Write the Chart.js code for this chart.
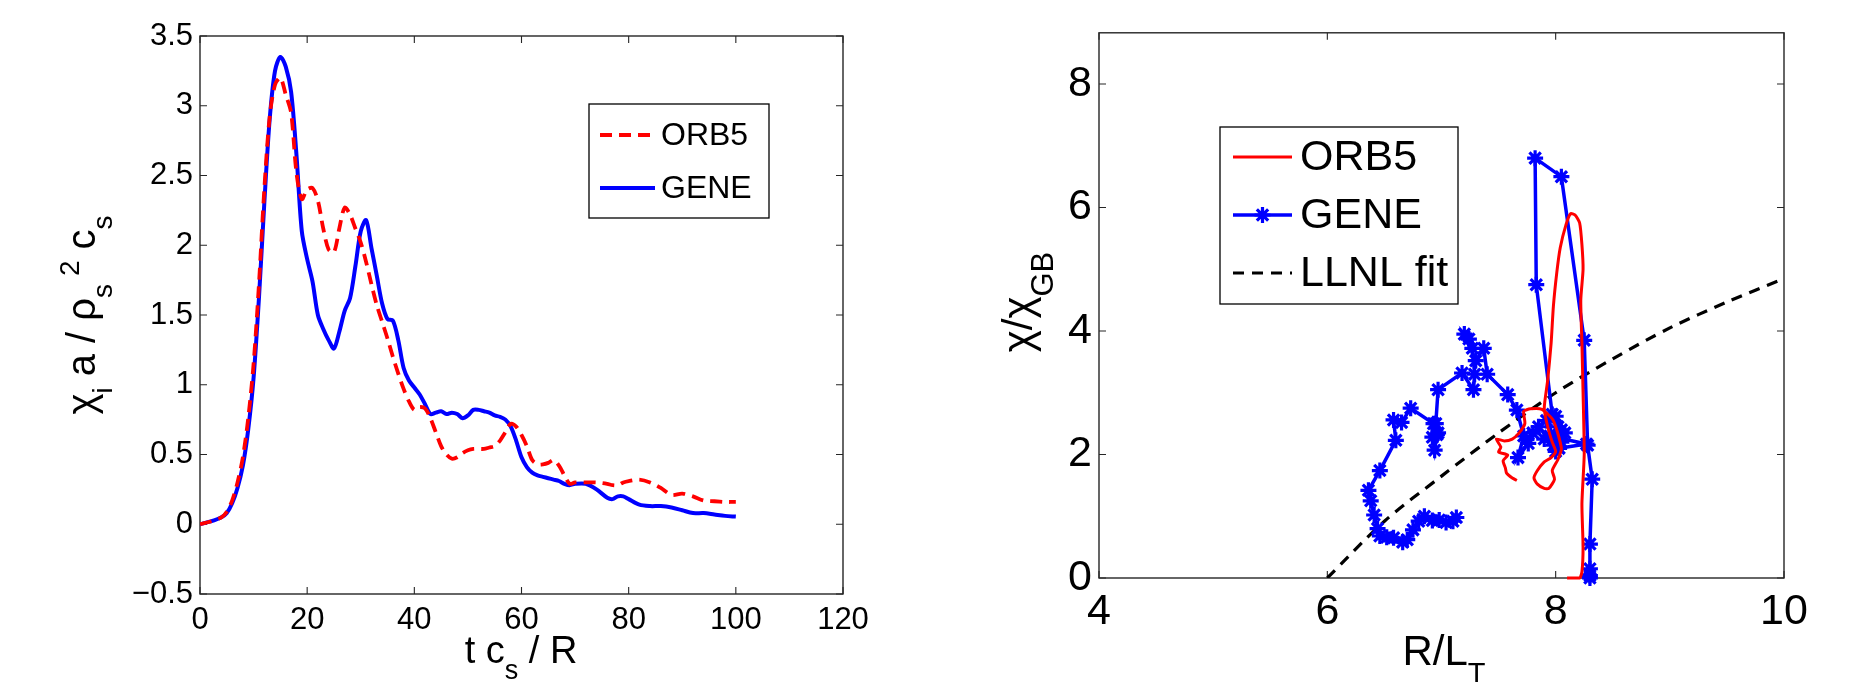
<!DOCTYPE html>
<html>
<head>
<meta charset="utf-8">
<script src="https://cdn.jsdelivr.net/npm/chart.js@4/dist/chart.umd.min.js"></script>
<style>
html, body { margin: 0; padding: 0; background: #fff; }
#wrap { position: relative; width: 1866px; height: 682px; overflow: hidden; }
canvas { position: absolute; top: 0; }
#left { left: 0; }
#right { left: 933px; }
</style>
</head>
<body>
<div id="wrap">
  <canvas id="left" width="933" height="682"></canvas>
  <canvas id="right" width="933" height="682"></canvas>
</div>
<script>
// --- Data: left panel (chi_i vs time) ---
const timeGrid = [0, 2, 4, 5, 6, 7, 8, 9, 10, 11, 12, 13, 14, 15, 16, 17, 18, 19, 20,
  21, 22, 23, 24, 25, 26, 27, 28, 29, 30, 31, 32, 33, 34, 35, 36, 37, 38, 39, 40,
  41, 42, 43, 44, 45, 46, 47, 48, 49, 50, 51, 52, 53, 54, 55, 56, 57, 58, 59, 60,
  61, 62, 63, 64, 65, 66, 67, 68, 69, 70, 72, 74, 76, 77, 78, 79, 80, 82, 84, 86,
  88, 90, 92, 94, 96, 98, 100];
const geneChiTime = [0.00, 0.02, 0.05, 0.08, 0.15, 0.26, 0.42, 0.68, 1.05, 1.62, 2.30, 2.90, 3.25, 3.35, 3.28, 3.10, 2.65, 2.10, 1.90,
  1.74, 1.50, 1.40, 1.32, 1.26, 1.38, 1.53, 1.62, 1.85, 2.10, 2.18, 1.98, 1.78, 1.58, 1.47, 1.46, 1.32, 1.12, 1.03, 0.98,
  0.93, 0.86, 0.79, 0.80, 0.81, 0.79, 0.80, 0.79, 0.76, 0.78, 0.82, 0.82, 0.81, 0.80, 0.78, 0.77, 0.75, 0.70, 0.60, 0.48,
  0.41, 0.37, 0.35, 0.34, 0.33, 0.32, 0.31, 0.29, 0.28, 0.29, 0.29, 0.25, 0.19, 0.18, 0.20, 0.20, 0.18, 0.14, 0.13, 0.13,
  0.12, 0.10, 0.08, 0.08, 0.07, 0.06, 0.055];
const orb5ChiTime = [0.00, 0.02, 0.05, 0.09, 0.17, 0.30, 0.48, 0.76, 1.15, 1.72, 2.40, 2.92, 3.15, 3.20, 3.08, 2.95, 2.52, 2.33, 2.40,
  2.41, 2.32, 2.12, 1.97, 1.95, 2.12, 2.27, 2.22, 2.12, 2.02, 1.88, 1.72, 1.57, 1.45, 1.33, 1.20, 1.08, 0.97, 0.88, 0.82,
  0.84, 0.83, 0.76, 0.66, 0.56, 0.50, 0.47, 0.48, 0.51, 0.53, 0.54, 0.54, 0.54, 0.55, 0.56, 0.60, 0.66, 0.72, 0.70, 0.64,
  0.56, 0.46, 0.43, 0.43, 0.44, 0.46, 0.42, 0.35, 0.29, 0.30, 0.30, 0.30, 0.29, 0.28, 0.28, 0.30, 0.31, 0.32, 0.30, 0.26,
  0.21, 0.22, 0.20, 0.17, 0.165, 0.16, 0.16];

// --- Data: right panel (chi/chi_GB vs R/L_T) ---
const orb5RLT = [8.10, 8.21, 8.23, 8.24, 8.23, 8.25, 8.24, 8.23, 8.22, 8.24, 8.23, 8.21, 8.17, 8.13, 8.09, 8.04, 8.01, 7.98,
  7.96, 7.93, 7.90, 7.93, 7.97, 8.00, 7.96, 7.90, 7.84, 7.81, 7.84, 7.90, 7.94, 7.99, 7.97, 8.02, 8.05, 7.98, 7.88, 7.78,
  7.72, 7.73, 7.68, 7.62, 7.55, 7.48, 7.52, 7.50, 7.58, 7.54, 7.56, 7.57, 7.62, 7.66];
const orb5Chi = [0.00, 0.00, 0.10, 0.50, 1.20, 2.00, 3.00, 3.80, 4.50, 5.00, 5.40, 5.75, 5.88, 5.90, 5.72, 5.35, 4.95, 4.40,
  3.80, 3.20, 2.75, 2.45, 2.20, 2.05, 1.95, 1.88, 1.74, 1.62, 1.52, 1.45, 1.45, 1.60, 1.74, 1.92, 2.10, 2.55, 2.73, 2.74,
  2.70, 2.50, 2.35, 2.25, 2.22, 2.25, 2.12, 2.04, 1.99, 1.90, 1.78, 1.70, 1.62, 1.58];
const geneRLT = [8.30, 8.30, 8.30, 8.30, 8.32, 8.28, 8.25, 8.05, 7.82, 7.83, 7.97, 8.02, 8.05, 8.00, 8.08, 7.95, 8.27,
  8.03, 7.92, 8.00, 8.05, 7.90, 7.98, 7.85, 7.80, 7.76, 7.67, 7.72, 7.66, 7.58, 7.40, 7.37, 7.30, 7.20, 7.24, 7.27,
  7.29, 7.28, 7.18, 6.97, 6.95, 6.97, 6.92, 6.94, 6.96, 6.93, 6.73, 6.65, 6.58, 6.60, 6.46, 6.36, 6.38, 6.41, 6.44,
  6.46, 6.52, 6.58, 6.66, 6.70, 6.75, 6.80, 6.85, 6.92, 6.98, 7.04, 7.10, 7.13];
const geneChi = [0.00, 0.04, 0.15, 0.55, 1.60, 2.15, 3.85, 6.50, 6.80, 4.75, 2.65, 2.45, 2.20, 2.05, 2.35, 2.30, 2.17,
  2.10, 2.55, 2.62, 2.40, 2.25, 2.15, 2.45, 2.35, 2.18, 1.95, 2.30, 2.72, 2.97, 3.30, 3.72, 3.52, 3.95, 3.87, 3.72,
  3.30, 3.05, 3.32, 3.05, 2.50, 2.35, 2.28, 2.07, 2.32, 2.50, 2.75, 2.52, 2.56, 2.23, 1.74, 1.42, 1.25, 1.02, 0.80,
  0.68, 0.66, 0.65, 0.58, 0.62, 0.78, 0.92, 1.00, 0.93, 0.94, 0.90, 0.92, 0.98];
const llnlRLT = [6.0, 6.5, 7.0, 7.5, 8.0, 8.5, 9.0, 9.5, 10.0];
const llnlChi = [0.00, 0.92, 1.65, 2.35, 3.00, 3.55, 4.05, 4.47, 4.85];

const FONT = '"Liberation Sans", Arial, Helvetica, sans-serif';
Chart.defaults.font.family = FONT;
Chart.defaults.color = '#000';

function toPoints(xs, ys) {
    return xs.map((x, i) => ({ x: x, y: ys[i] }));
}
function fmtTick(v) {
    return String(Math.round(v * 10) / 10).replace('-', '\u2212');
}

// --- Plugins: Matlab-like box, inward ticks, legend and rich axis titles ---
const matlabBox = {
    id: 'matlabBox',
    beforeDatasetsDraw(chart) {
        const { ctx, chartArea: a, scales } = chart;
        ctx.save();
        ctx.strokeStyle = '#262626';
        ctx.lineWidth = 1.4;
        ctx.strokeRect(a.left, a.top, a.right - a.left, a.bottom - a.top);
        ctx.lineWidth = 1.1;
        ctx.beginPath();
        scales.x.ticks.forEach(t => {
            const px = scales.x.getPixelForValue(t.value);
            ctx.moveTo(px, a.bottom); ctx.lineTo(px, a.bottom - 7);
            ctx.moveTo(px, a.top); ctx.lineTo(px, a.top + 7);
        });
        scales.y.ticks.forEach(t => {
            const py = scales.y.getPixelForValue(t.value);
            ctx.moveTo(a.left, py); ctx.lineTo(a.left + 7, py);
            ctx.moveTo(a.right, py); ctx.lineTo(a.right - 7, py);
        });
        ctx.stroke();
        ctx.restore();
    }
};

function drawRich(ctx, t) {
    ctx.save();
    ctx.translate(t.x, t.y);
    if (t.rotate) ctx.rotate(-Math.PI / 2);
    ctx.fillStyle = '#000';
    ctx.textAlign = 'left';
    ctx.textBaseline = 'alphabetic';
    let total = 0;
    t.parts.forEach(p => { ctx.font = p[1] + 'px ' + FONT; total += ctx.measureText(p[0]).width; });
    let cx = -total / 2;
    t.parts.forEach(p => {
        ctx.font = p[1] + 'px ' + FONT;
        ctx.fillText(p[0], cx, p[2]);
        cx += ctx.measureText(p[0]).width;
    });
    ctx.restore();
}

const matlabText = {
    id: 'matlabText',
    afterDatasetsDraw(chart, args, opts) {
        const ctx = chart.ctx;
        (opts.titles || []).forEach(t => drawRich(ctx, t));
        const lg = opts.legend;
        if (!lg) return;
        ctx.save();
        ctx.fillStyle = '#fff';
        ctx.fillRect(lg.box[0], lg.box[1], lg.box[2] - lg.box[0], lg.box[3] - lg.box[1]);
        ctx.strokeStyle = '#000';
        ctx.lineWidth = 1.3;
        ctx.strokeRect(lg.box[0], lg.box[1], lg.box[2] - lg.box[0], lg.box[3] - lg.box[1]);
        chart.data.datasets.forEach((ds, i) => {
            const y = lg.rows[i];
            ctx.strokeStyle = ds.borderColor;
            ctx.lineWidth = ds.borderWidth;
            ctx.setLineDash(ds.borderDash || []);
            ctx.beginPath();
            ctx.moveTo(lg.lineX[0], y);
            ctx.lineTo(lg.lineX[1], y);
            ctx.stroke();
            ctx.setLineDash([]);
            if (ds.pointStyle && ds.pointRadius > 0) {
                ctx.fillStyle = ds.pointBackgroundColor;
                ctx.strokeStyle = ds.pointBorderColor;
                ctx.lineWidth = ds.pointBorderWidth;
                Chart.helpers.drawPoint(ctx, { pointStyle: ds.pointStyle, radius: ds.pointRadius, borderWidth: ds.pointBorderWidth, rotation: 0 },
                    (lg.lineX[0] + lg.lineX[1]) / 2, y);
            }
            ctx.fillStyle = '#000';
            ctx.font = lg.fontSize + 'px ' + FONT;
            ctx.textAlign = 'left';
            ctx.textBaseline = 'middle';
            ctx.fillText(ds.label, lg.textX, y + 1);
        });
        ctx.restore();
    }
};

// --- Left chart ---
new Chart(document.getElementById('left'), {
    type: 'scatter',
    data: {
        datasets: [{
            label: 'ORB5',
            data: toPoints(timeGrid, orb5ChiTime),
            showLine: true,
            borderColor: '#ff0000',
            borderWidth: 3.8,
            borderDash: [12, 7],
            pointRadius: 0,
            tension: 0.3
        }, {
            label: 'GENE',
            data: toPoints(timeGrid, geneChiTime),
            showLine: true,
            borderColor: '#0000ff',
            borderWidth: 4,
            pointRadius: 0,
            tension: 0.3
        }]
    },
    options: {
        responsive: false,
        animation: false,
        layout: { padding: { left: 0, top: 36, right: 90, bottom: 0 } },
        scales: {
            x: {
                type: 'linear', min: 0, max: 120,
                ticks: { stepSize: 20, font: { size: 31 }, padding: 8, maxRotation: 0, callback: fmtTick },
                grid: { display: false, drawTicks: false },
                border: { display: false },
                afterFit: s => { s.height = 88; }
            },
            y: {
                type: 'linear', min: -0.5, max: 3.5,
                ticks: { stepSize: 0.5, font: { size: 31 }, padding: 7, callback: fmtTick },
                grid: { display: false, drawTicks: false },
                border: { display: false },
                afterFit: s => { s.width = 200; }
            }
        },
        plugins: {
            legend: { display: false },
            tooltip: { enabled: false },
            matlabText: {
                titles: [
                    { x: 521, y: 663, parts: [['t c', 38, 0], ['s', 27, 16], [' / R', 38, 0]] },
                    { x: 95, y: 315, rotate: true, parts: [['\u03c7', 40, 0], ['i', 28, 17], [' a / \u03c1', 40, 0], ['s', 28, 17], [' ', 28, 0], ['2', 28, -16], [' c', 40, 0], ['s', 28, 17]] }
                ],
                legend: { box: [589, 104, 769, 218], rows: [135, 188], lineX: [600, 655], textX: 661, fontSize: 32 }
            }
        }
    },
    plugins: [matlabBox, matlabText]
});

// --- Right chart ---
new Chart(document.getElementById('right'), {
    type: 'scatter',
    data: {
        datasets: [{
            label: 'ORB5',
            data: toPoints(orb5RLT, orb5Chi),
            showLine: true,
            borderColor: '#ff0000',
            borderWidth: 3,
            pointRadius: 0,
            tension: 0.2,
            clip: false
        }, {
            label: 'GENE',
            data: toPoints(geneRLT, geneChi),
            showLine: true,
            borderColor: '#0000ff',
            borderWidth: 3.5,
            pointStyle: 'star',
            pointRadius: 8,
            pointBorderWidth: 3.2,
            pointBorderColor: '#0000ff',
            pointBackgroundColor: '#0000ff',
            tension: 0,
            clip: false
        }, {
            label: 'LLNL fit',
            data: toPoints(llnlRLT, llnlChi),
            showLine: true,
            borderColor: '#000000',
            borderWidth: 3.2,
            borderDash: [11, 8],
            pointRadius: 0,
            tension: 0.3
        }]
    },
    options: {
        responsive: false,
        animation: false,
        layout: { padding: { left: 0, top: 26, right: 82, bottom: 0 } },
        scales: {
            x: {
                type: 'linear', min: 4, max: 10,
                ticks: { stepSize: 2, font: { size: 43 }, padding: 8, maxRotation: 0, callback: fmtTick },
                grid: { display: false, drawTicks: false },
                border: { display: false },
                afterFit: s => { s.height = 104; }
            },
            y: {
                type: 'linear', min: 0, max: 8.83,
                ticks: { stepSize: 2, font: { size: 43 }, padding: 7, callback: fmtTick },
                afterBuildTicks: s => { s.ticks = s.ticks.filter(t => t.value % 2 === 0); },
                grid: { display: false, drawTicks: false },
                border: { display: false },
                afterFit: s => { s.width = 166; }
            }
        },
        plugins: {
            legend: { display: false },
            tooltip: { enabled: false },
            matlabText: {
                titles: [
                    { x: 511, y: 665, parts: [['R/L', 42, 0], ['T', 29, 18]] },
                    { x: 99, y: 302, rotate: true, parts: [['\u03c7/\u03c7', 42, 0], ['GB', 31, 21]] }
                ],
                legend: { box: [287, 127, 525, 304], rows: [157, 215, 273], lineX: [300, 359], textX: 367, fontSize: 43 }
            }
        }
    },
    plugins: [matlabBox, matlabText]
});
</script>
</body>
</html>
